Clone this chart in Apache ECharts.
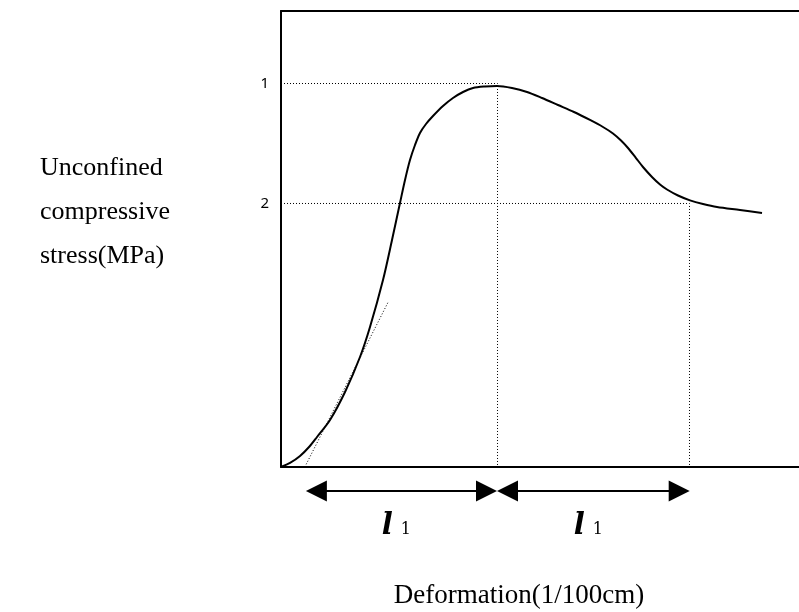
<!DOCTYPE html>
<html>
<head>
<meta charset="utf-8">
<script src="https://cdn.jsdelivr.net/npm/echarts@6/dist/echarts.min.js"></script>
<style>html,body{margin:0;padding:0;background:#fff}#c{width:799px;height:612px}</style>
</head>
<body>
<div id="c"></div>
<script>
// Stress–deformation curve (arbitrary units, axes 0..100)
const deformation = [0, 1.74, 3.67, 5.50, 6.95, 9.46, 12.36, 15.25, 17.18, 19.69, 21.43, 22.97, 23.94, 24.90, 25.87, 26.83, 27.99, 29.34, 31.27, 33.20, 35.14, 37.07, 39.38, 41.70, 44.59, 47.49, 50.39, 53.47, 56.56, 59.65, 62.16, 64.09, 65.64, 66.99, 68.53, 69.88, 71.62, 73.17, 74.52, 76.64, 78.96, 81.47, 84.17, 88.61, 92.86];
const stress      = [0, 0.88, 2.41, 4.50, 6.58, 10.31, 16.45, 24.12, 30.70, 41.01, 49.78, 57.89, 62.94, 67.32, 70.61, 73.25, 75.22, 76.97, 79.17, 80.92, 82.24, 83.11, 83.44, 83.55, 83.11, 82.24, 80.92, 79.39, 77.85, 76.10, 74.56, 73.14, 71.60, 69.96, 67.76, 65.79, 63.60, 61.95, 60.86, 59.54, 58.48, 57.68, 57.02, 56.36, 55.70];

// Reference levels (stress) and their deformation positions
const levelValues = [84.1, 57.79];
const levelLabels = ['1', '2'];
const levelDeformation = [41.8, 78.86];

// Initial tangent (dotted)
const tangentX = [4.6, 20.7];
const tangentY = [0, 36.2];

// Dimension arrows
const arrowStarts = [4.8, 41.7];
const arrowEnds   = [41.7, 78.9];
const arrowLevel  = -5.26;
const arrowLabels = ['l', 'l'];
const arrowSubs   = ['1', '1'];

const yTitle = 'Unconfined\ncompressive\nstress(MPa)';
const xTitle = 'Deformation(1/100cm)';

const curveData = deformation.map((x, i) => [x, stress[i]]);
const guideSeries = levelValues.map((v, i) => ({
  type: 'line',
  data: [[0, v], [levelDeformation[i], v], [levelDeformation[i], 0]],
  symbol: 'none',
  lineStyle: { color: '#000', width: 1, type: [1, 2] },
  z: 1
}));
const arrowData = arrowStarts.map((s, i) => [s, arrowEnds[i], arrowLevel, i]);

const axisLineStyle = { show: true, onZero: false, lineStyle: { color: '#000', width: 2 } };

const chart = echarts.init(document.getElementById('c'), null, { renderer: 'canvas' });
chart.setOption({
  animation: false,
  backgroundColor: '#fff',
  grid: { left: 281, right: 0, top: 11, bottom: 145 },
  xAxis: [
    { type: 'value', min: 0, max: 100, axisLine: axisLineStyle, axisTick: { show: false }, axisLabel: { show: false }, splitLine: { show: false } },
    { type: 'value', position: 'top', min: 0, max: 100, axisLine: axisLineStyle, axisTick: { show: false }, axisLabel: { show: false }, splitLine: { show: false } }
  ],
  yAxis: {
    type: 'value', min: 0, max: 100,
    axisLine: axisLineStyle,
    axisTick: { show: false },
    splitLine: { show: false },
    axisLabel: {
      customValues: levelValues,
      formatter: function (v) {
        for (let i = 0; i < levelValues.length; i++) if (Math.abs(levelValues[i] - v) < 0.01) return levelLabels[i];
        return '';
      },
      color: '#000', fontSize: 15, fontFamily: 'Noto Sans', margin: 12
    }
  },
  graphic: [
    { type: 'text', left: 40, top: 146, style: { text: yTitle, font: '26px "Liberation Serif"', lineHeight: 44, fill: '#000' } },
    { type: 'text', x: 519, y: 596, style: { text: xTitle, font: '27px "Liberation Serif"', align: 'center', verticalAlign: 'middle', fill: '#000' } }
  ],
  series: [
    ...guideSeries,
    {
      type: 'line',
      data: tangentX.map((x, i) => [x, tangentY[i]]),
      symbol: 'none',
      lineStyle: { color: '#000', width: 1, type: [1, 2] },
      z: 1
    },
    {
      type: 'line',
      data: curveData,
      smooth: 0.3,
      symbol: 'none',
      lineStyle: { color: '#000', width: 2 },
      z: 3
    },
    {
      type: 'custom',
      data: arrowData,
      clip: false,
      renderItem: function (params, api) {
        const s = api.coord([api.value(0), api.value(2)]);
        const e = api.coord([api.value(1), api.value(2)]);
        const idx = api.value(3);
        const y = s[1], L = 21, H = 21;
        return {
          type: 'group',
          children: [
            { type: 'line', shape: { x1: s[0] + L - 2, y1: y, x2: e[0] - L + 2, y2: y }, style: { stroke: '#000', lineWidth: 2 } },
            { type: 'polygon', shape: { points: [[s[0], y], [s[0] + L, y - H / 2], [s[0] + L, y + H / 2]] }, style: { fill: '#000' } },
            { type: 'polygon', shape: { points: [[e[0], y], [e[0] - L, y - H / 2], [e[0] - L, y + H / 2]] }, style: { fill: '#000' } },
            {
              type: 'text', x: (s[0] + e[0]) / 2 - 5, y: y + 50,
              style: {
                text: '{l|' + arrowLabels[idx] + '}{s|' + arrowSubs[idx] + '}',
                align: 'center', verticalAlign: 'bottom',
                rich: {
                  l: { fontSize: 29, fontFamily: 'DejaVu Serif', fontStyle: 'italic', fontWeight: 'bold', fill: '#000', verticalAlign: 'bottom' },
                  s: { fontSize: 16, fontFamily: 'DejaVu Serif', fill: '#000', verticalAlign: 'bottom', padding: [0, 0, 3, 8] }
                }
              }
            }
          ]
        };
      },
      z: 4
    }
  ]
});
</script>
</body>
</html>
